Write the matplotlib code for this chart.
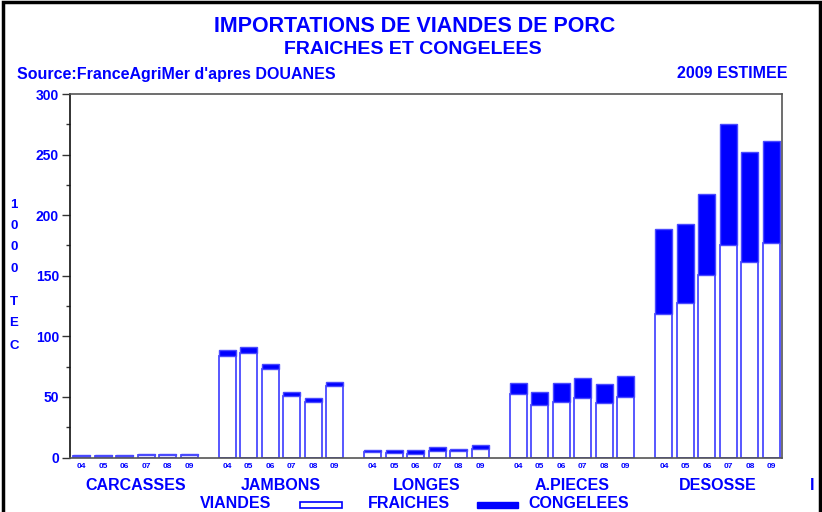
import matplotlib
matplotlib.use("Agg")
import matplotlib.pyplot as plt
from matplotlib.patches import Rectangle
from matplotlib.ticker import MultipleLocator

# ---- data (1000 TEC) ----
years = ['04', '05', '06', '07', '08', '09']
categories = ['CARCASSES', 'JAMBONS', 'LONGES', 'A.PIECES', 'DESOSSE']

fraiches_carcasses = [1.3, 1.3, 1.5, 2.1, 2.1, 2.2]
congelees_carcasses = [0.6, 0.6, 0.6, 0.9, 0.9, 0.8]
fraiches_jambons = [84, 86, 73, 50.5, 46, 59]
congelees_jambons = [5, 5, 4, 3.5, 3, 3]
fraiches_longes = [4.4, 3.6, 3.3, 5.5, 5.0, 6.9]
congelees_longes = [2.2, 2.7, 2.5, 2.8, 2.2, 3.3]
fraiches_apieces = [52, 43, 46, 49, 45, 50]
congelees_apieces = [9.3, 11, 15.4, 17, 15.5, 17.4]
fraiches_desosse = [118.5, 127.6, 151, 175, 161, 177.3]
congelees_desosse = [70, 64.7, 66.7, 100, 91.5, 84.3]

fraiches = [fraiches_carcasses, fraiches_jambons, fraiches_longes,
            fraiches_apieces, fraiches_desosse]
congelees = [congelees_carcasses, congelees_jambons, congelees_longes,
             congelees_apieces, congelees_desosse]

yticks = [0, 50, 100, 150, 200, 250, 300]
ylabel_chars = ['1', '0', '0', '0', 'T', 'E', 'C']

BLUE = '#0000ff'
EDGE = '#4a4aff'
FONT = ['Liberation Sans', 'DejaVu Sans']

W, H = 822, 512
fig = plt.figure(figsize=(W / 100, H / 100), dpi=100)

def fx(px):
    return px / W

def fy(py):
    return 1 - py / H

ax = fig.add_axes([fx(70), fy(457.5), fx(781.5) - fx(70), fy(94) - fy(457.5)])

group_pitch = 145.6
bar_pitch = 21.5
bar_w = 17.0
first = 3.0

centers = []
for g, cat in enumerate(categories):
    xs = [first + g * group_pitch + i * bar_pitch + bar_w / 2 for i in range(len(years))]
    centers.append(xs)
    ax.bar(xs, fraiches[g], width=bar_w, color='white', edgecolor=EDGE,
           linewidth=1.3, zorder=2)
    ax.bar(xs, congelees[g], width=bar_w, bottom=fraiches[g], color=BLUE,
           edgecolor=EDGE, linewidth=1.0, zorder=2)

ax.set_xlim(0, 711.5)
ax.set_ylim(0, 300)
ax.set_xticks([])
ax.yaxis.set_major_locator(MultipleLocator(50))
ax.yaxis.set_minor_locator(MultipleLocator(25))
ax.set_yticks(yticks)
ax.set_yticklabels([str(v) for v in yticks], family=FONT, fontweight='bold',
                   fontsize=10, color=BLUE)
ax.tick_params(axis='y', which='major', direction='out', length=6, width=1,
               color='#333333', pad=2)
ax.tick_params(axis='y', which='minor', direction='out', length=3, width=1,
               color='#333333')
for s in ['left']:
    ax.spines[s].set_color('#111111')
for s in ['top', 'right', 'bottom']:
    ax.spines[s].set_color('#555555')
for s in ax.spines.values():
    s.set_linewidth(1.2)

# year labels under each bar
for g in range(len(categories)):
    for i, yr in enumerate(years):
        ax.text(centers[g][i], -7.5, yr, ha='center', va='center',
                family=FONT, fontweight='bold', fontsize=6, color=BLUE,
                clip_on=False)
    gc = sum(centers[g]) / len(centers[g])
    fig.text(fx(70) + (gc / 711.5) * (fx(781.5) - fx(70)), fy(485), categories[g],
             ha='center', va='center', family=FONT, fontweight='bold',
             fontsize=11.5, color=BLUE)

fig.text(fx(812), fy(485), 'I', ha='center', va='center', family=FONT,
         fontweight='bold', fontsize=11.5, color=BLUE)

# y label stacked characters
ylab_y = [205, 226, 247, 269, 302, 323, 346]
for ch, yy in zip(ylabel_chars, ylab_y):
    fig.text(fx(14), fy(yy), ch, ha='center', va='center', family=FONT,
             fontweight='bold', fontsize=9.5, color=BLUE)

# titles
fig.text(fx(415), fy(27), 'IMPORTATIONS DE VIANDES DE PORC', ha='center',
         va='center', family=FONT, fontweight='bold', fontsize=15.5, color=BLUE)
fig.text(fx(413), fy(49), 'FRAICHES ET CONGELEES', ha='center', va='center',
         family=FONT, fontweight='bold', fontsize=14, color=BLUE)
fig.text(fx(17), fy(74), "Source:FranceAgriMer d'apres DOUANES", ha='left',
         va='center', family=FONT, fontweight='bold', fontsize=11.5, color=BLUE)
fig.text(fx(787), fy(74), '2009 ESTIMEE', ha='right', va='center',
         family=FONT, fontweight='bold', fontsize=11.5, color=BLUE)

# legend
fig.text(fx(236), fy(503), 'VIANDES', ha='center', va='center', family=FONT,
         fontweight='bold', fontsize=11.5, color=BLUE)
fig.patches.append(Rectangle((fx(300), fy(508)), fx(342) - fx(300),
                             fy(502) - fy(508), transform=fig.transFigure,
                             facecolor='white', edgecolor=BLUE, linewidth=1.2))
fig.text(fx(409), fy(503), 'FRAICHES', ha='center', va='center', family=FONT,
         fontweight='bold', fontsize=11.5, color=BLUE)
fig.patches.append(Rectangle((fx(477), fy(508)), fx(518) - fx(477),
                             fy(502) - fy(508), transform=fig.transFigure,
                             facecolor=BLUE, edgecolor=BLUE, linewidth=1.0))
fig.text(fx(579), fy(503), 'CONGELEES', ha='center', va='center', family=FONT,
         fontweight='bold', fontsize=11.5, color=BLUE)

# outer frame
fig.patches.append(Rectangle((fx(3), fy(530)), fx(820) - fx(3), fy(2) - fy(530),
                             transform=fig.transFigure, fill=False,
                             edgecolor='black', linewidth=2.5, clip_on=False))

fig.savefig('out.png', dpi=100, facecolor='white')
